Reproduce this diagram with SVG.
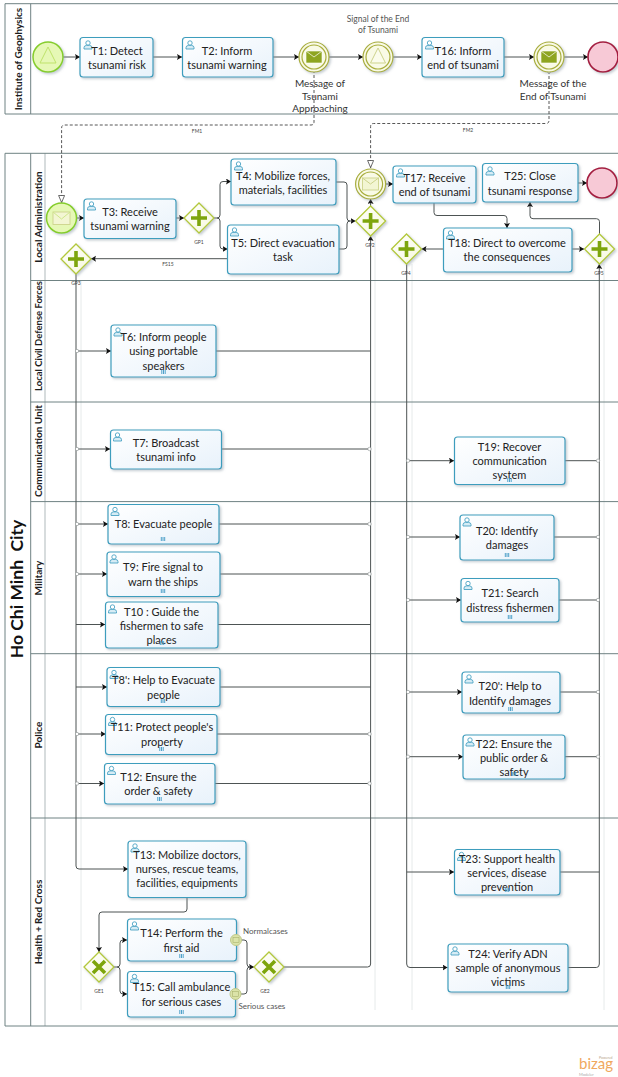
<svg xmlns="http://www.w3.org/2000/svg" width="618" height="1077" viewBox="0 0 618 1077">
<style>
text{font-family:"Lato","Open Sans","Liberation Sans",sans-serif;fill:#222}
.t{font-size:11px;text-anchor:middle}
.lane{font-size:10px;font-weight:700;text-anchor:middle;fill:#1c1c1c}
.s{font-size:5px;text-anchor:middle;fill:#444}
.e{font-size:10px;text-anchor:middle;fill:#333}
.n{font-size:8px;fill:#555}
.box{fill:url(#tg);stroke:#3e9dbd;stroke-width:1.2;filter:url(#sh)}
.pool{fill:none;stroke:#6f8283;stroke-width:1}
.pale{fill:none;stroke:#e6eaea;stroke-width:1}
.c{fill:none;stroke:#4d5353;stroke-width:1}
.a{marker-end:url(#ar)}
.mf{fill:none;stroke:#444;stroke-width:.9;stroke-dasharray:3 2}
.j{fill:#fff;stroke:#8a9090;stroke-width:.6}
.gw{fill:url(#gg);stroke:#b3c83a;stroke-width:1.3;filter:url(#sh)}
.gs{fill:none;stroke:#7da50c;stroke-width:3.6}
.st{fill:#e6f8b6;stroke:#86cd2c;stroke-width:1.5;filter:url(#sh)}
.sti{fill:none;stroke:#bfe36a;stroke-width:1}
.im{fill:#f9fae6;stroke:#a8ad3c;stroke-width:1.2}
.env{fill:#8ea520;stroke:#fff;stroke-width:.6}
.envl{fill:#f3f6d3;stroke:#cdd38c;stroke-width:.9}
.en{fill:#f7c9d6;stroke:#a41d40;stroke-width:1.6;filter:url(#sh)}
.be{fill:#dbe3a8;stroke:#c0c98a;stroke-width:1}
</style>
<defs>
<linearGradient id="tg" x1="0" y1="0" x2="1" y2="1"><stop offset="0" stop-color="#fff"/><stop offset="1" stop-color="#e8f2fb"/></linearGradient>
<linearGradient id="gg" x1="0" y1="0" x2="1" y2="1"><stop offset="0" stop-color="#fff"/><stop offset="1" stop-color="#f6f8dc"/></linearGradient>
<filter id="sh" x="-10%" y="-10%" width="125%" height="125%"><feDropShadow dx="1.5" dy="1.5" stdDeviation="1.2" flood-color="#8a9aa5" flood-opacity=".5"/></filter>
<marker id="ar" markerUnits="userSpaceOnUse" markerWidth="7" markerHeight="7" refX="5" refY="3" orient="auto"><path d="M0 0L5 3L0 6L1 3Z" fill="#111"/></marker>
<marker id="mo" markerUnits="userSpaceOnUse" markerWidth="10" markerHeight="10" refX="8" refY="3.5" orient="auto"><path d="M0.5 0.5L7.5 3.5L0.5 6.5Z" fill="#fff" stroke="#444" stroke-width=".8"/></marker>
<g id="u"><circle cx="5" cy="3" r="2.2" fill="#fff" stroke="#4aa3c4" stroke-width=".9"/><path d="M1 9V7.6Q1 5.6 3.4 5.4H6.6Q9 5.6 9 7.6V9Z" fill="#d6ecf5" stroke="#4aa3c4" stroke-width=".9"/></g>
<path id="m" d="M-1.7 0V4M0 0V4M1.7 0V4" stroke="#3d97c4" stroke-width=".9" fill="none"/>
<path id="pl" d="M-8 0H8M0 -8V8" class="gs"/>
<path id="xx" d="M-6 -6L6 6M6 -6L-6 6" class="gs"/>
<path id="dm" d="M-15 0L0 -15L15 0L0 15Z"/>
</defs>
<rect width="618" height="1077" fill="#fff"/>

<g id="pools">
<path class="pale" d="M81 280V1010M375 236V1010M412 264V1010M604 264V1010"/>
<path class="pool" d="M618 3.7H5V114H618M30.7 3.7V114"/>
<path class="pool" d="M618 153.3H5V1026H618M30.7 153.3V1026"/>
<path class="pool" d="M45 153.3V1026" stroke-opacity=".55"/>
<path class="pool" d="M30.700 280.500H618M30.700 402H618M30.700 501.600H618M30.700 653.700H618M30.700 818H618"/>
<text class="lane" transform="translate(22,59) rotate(-90)">Institute of Geophysics</text>
<text class="lane" transform="translate(42,217) rotate(-90)">Local Administration</text>
<text class="lane" transform="translate(42,336) rotate(-90)" style="font-size:9.500px">Local Civil Defense Forces</text>
<text class="lane" transform="translate(42,451) rotate(-90)">Communication Unit</text>
<text class="lane" transform="translate(42,578) rotate(-90)">Military</text>
<text class="lane" transform="translate(42,735) rotate(-90)">Police</text>
<text class="lane" transform="translate(42,922) rotate(-90)">Health + Red Cross</text>
<text class="lane" transform="translate(23,589) rotate(-90)" style="font-size:17.500px;fill:#111;white-space:pre">Ho Chi Minh  City</text>
</g>

<g id="connectors">
<path class="c a" d="M63 57H80"/><path class="c a" d="M153 57H182"/><path class="c a" d="M273 57H299"/><path class="c a" d="M329 57H363"/><path class="c a" d="M393 57H422"/><path class="c a" d="M504 57H534"/><path class="c a" d="M564 57H588"/>
<path class="mf" marker-end="url(#mo)" d="M314 70V122Q314 125 311 125H64.600Q61.600 125 61.600 128V203"/>
<path class="mf" marker-end="url(#mo)" d="M549 71V120.500Q549 123.500 546 123.500H373.600Q370.600 123.500 370.600 126.500V168"/>
<circle class="j" cx="314" cy="70" r="2"/><circle class="j" cx="549" cy="71" r="2"/>
<path class="c a" d="M76.500 218H84"/><path class="c a" d="M176 218H184"/>
<path class="c a" d="M214 218H217Q220 218 220 215V184.500Q220 181.500 223 181.500H231"/>
<path class="c a" d="M217 218Q220 218 220 221V246Q220 249 223 249H227.500"/>
<path class="c a" d="M227.500 258.700H91"/>
<path class="c a" d="M336 182H344Q347 182 347 185V218Q347 221 350 221H355.500"/>
<path class="c" d="M339 249H344Q347 249 347 246V224Q347 221 350 221"/>
<path class="c a" d="M370.600 206V199"/><path class="c a" d="M385.600 184H393"/>
<path class="c a" d="M434 203V212.500Q434 215.500 437 215.500H504Q507 215.500 507 218.500V228"/>
<path class="c a" d="M443 249H421.500"/><path class="c a" d="M572 249H584"/>
<path class="c a" d="M599.500 234V221.700Q599.500 218.700 596.500 218.700H533Q530 218.700 530 215.700V202"/>
<path class="c a" d="M578 183H587"/>
<path class="c a" d="M76 274V866Q76 869 79 869H128"/>
<path class="c a" d="M76 351H111"/><path class="c a" d="M76 449H110"/><path class="c a" d="M76 524H108"/><path class="c a" d="M76 574H107"/><path class="c a" d="M76 624.500H105"/><path class="c a" d="M76 687H107"/><path class="c a" d="M76 734H105.500"/><path class="c a" d="M76 783.500H104"/>
<path class="c" d="M216 351H370.600M222 449H370.600M219 524H370.600M220 574H370.600M218 624.500H370.600M220 687H370.600M217 734H370.600M215 783.500H370.600"/>
<path class="c a" d="M284 967H367.600Q370.600 967 370.600 964V236"/>
<path class="c a" d="M187 898V909Q187 912 184 912H102Q99 912 99 915V952"/>
<path class="c a" d="M114 967H117Q120 967 120 964V943Q120 940 123 940H127"/>
<path class="c a" d="M117 967Q120 967 120 970V991Q120 994 123 994H127"/>
<path class="c a" d="M241.500 940H244Q247 940 247 943V964Q247 967 250 967H254"/>
<path class="c" d="M241 994H244Q247 994 247 991V970Q247 967 250 967"/>
<path class="c a" d="M406.700 264V964Q406.700 967.500 410 967.500H447.500"/>
<path class="c a" d="M406.700 460.700H454"/><path class="c a" d="M406.700 537H460"/><path class="c a" d="M406.700 600H461"/><path class="c a" d="M406.700 692H462"/><path class="c a" d="M406.700 756.700H463"/><path class="c a" d="M406.700 872H454"/>
<path class="c" d="M565 460.700H599.300M554 537H599.300M559 600H599.300M560 692H599.300M565 756.700H599.300M560 872H599.300"/>
<path class="c a" d="M568 967.500H596.300Q599.300 967.500 599.300 964V264"/>
<g id="junctions"><circle class="j" cx="77" cy="351" r="1.7"/><circle class="j" cx="77" cy="449" r="1.7"/><circle class="j" cx="77" cy="524" r="1.7"/><circle class="j" cx="77" cy="574" r="1.7"/><circle class="j" cx="77" cy="734" r="1.7"/><circle class="j" cx="77" cy="783.500" r="1.7"/><circle class="j" cx="369.500" cy="449" r="1.7"/><circle class="j" cx="369.500" cy="524" r="1.7"/><circle class="j" cx="369.500" cy="574" r="1.7"/><circle class="j" cx="369.500" cy="734" r="1.7"/><circle class="j" cx="369.500" cy="783.500" r="1.7"/><circle class="j" cx="408" cy="460.700" r="1.7"/><circle class="j" cx="408" cy="537" r="1.7"/><circle class="j" cx="408" cy="600" r="1.7"/><circle class="j" cx="408" cy="692" r="1.7"/><circle class="j" cx="408" cy="756.700" r="1.7"/><circle class="j" cx="598" cy="460.700" r="1.7"/><circle class="j" cx="598" cy="537" r="1.7"/><circle class="j" cx="598" cy="600" r="1.7"/><circle class="j" cx="598" cy="692" r="1.7"/><circle class="j" cx="598" cy="756.700" r="1.7"/></g>
</g>

<g id="StartGeo"><circle class="st" cx="48" cy="57" r="15"/><path class="sti" d="M48 47L56 63H40Z"/></g>
<g id="T1"><rect class="box" x="80" y="37.500" width="73" height="39.500" rx="3"/><use href="#u" x="83" y="40"/><text class="t" x="117" y="55">T1: Detect</text><text class="t" x="117" y="69">tsunami risk</text></g>
<g id="T2"><rect class="box" x="182.500" y="37.500" width="90.500" height="39.500" rx="3"/><use href="#u" x="185" y="40"/><text class="t" x="227" y="55">T2: Inform</text><text class="t" x="227" y="69">tsunami warning</text></g>
<g id="MsgApproach"><circle class="im" cx="314" cy="57" r="15" filter="url(#sh)"/><circle class="im" cx="314" cy="57" r="12"/><rect class="env" x="306" y="51" width="16" height="12"/><path d="M306 51L314 57L322 51" fill="none" stroke="#fff" stroke-width=".7"/><text class="e" x="320" y="87">Message of</text><text class="e" x="320" y="99.500">Tsunami</text><text class="e" x="320" y="112">Approaching</text></g>
<g id="SignalEnd"><circle class="im" cx="378" cy="57" r="15" filter="url(#sh)"/><circle class="im" cx="378" cy="57" r="12"/><path d="M378 48L385.500 63H370.500Z" fill="#fbfcec" stroke="#cdd38c"/><text class="e" x="378" y="21.500" style="font-size:8.500px;fill:#555">Signal of the End</text><text class="e" x="378" y="32.500" style="font-size:8.500px;fill:#555">of Tsunami</text></g>
<g id="T16"><rect class="box" x="422" y="37.500" width="82" height="39.500" rx="3"/><use href="#u" x="424.500" y="40"/><text class="t" x="463" y="55">T16: Inform</text><text class="t" x="463" y="69">end of tsunami</text></g>
<g id="MsgEnd"><circle class="im" cx="549" cy="57" r="15" filter="url(#sh)"/><circle class="im" cx="549" cy="57" r="12"/><rect class="env" x="541" y="51" width="16" height="12"/><path d="M541 51L549 57L557 51" fill="none" stroke="#fff" stroke-width=".7"/><text class="e" x="553" y="87">Message of the</text><text class="e" x="553" y="99.500">End of Tsunami</text></g>
<g id="EndGeo"><circle class="en" cx="603" cy="57" r="15"/></g>

<g id="StartMsg"><circle class="st" cx="61.500" cy="218" r="15"/><rect class="envl" x="53" y="212" width="17" height="12.500"/><path d="M53 212L61.500 219L70 212" fill="none" stroke="#cfe88c"/></g>
<g id="T3"><rect class="box" x="84" y="199" width="92" height="39.500" rx="3"/><use href="#u" x="86.500" y="201"/><text class="t" x="130" y="216">T3: Receive</text><text class="t" x="130" y="230">tsunami warning</text></g>
<g id="GP1"><use href="#dm" x="199" y="218" class="gw"/><use href="#pl" x="199" y="218"/><text class="s" x="199" y="243.500">GP1</text></g>
<g id="T4"><rect class="box" x="231" y="159" width="105" height="46" rx="3"/><use href="#u" x="233.500" y="161"/><text class="t" x="283" y="179.500">T4: Mobilize forces,</text><text class="t" x="283" y="193.500">materials, facilities</text></g>
<g id="T5"><rect class="box" x="227.500" y="225" width="111.500" height="49" rx="3"/><use href="#u" x="229.500" y="227"/><text class="t" x="283" y="247">T5: Direct evacuation</text><text class="t" x="283" y="261">task</text></g>
<g id="GP3"><use href="#dm" x="76" y="259" class="gw"/><use href="#pl" x="76" y="259"/><text class="s" x="76" y="285">GP3</text></g>
<text class="s" x="168" y="266">FS15</text><text class="s" x="197" y="133">FM1</text><text class="s" x="468" y="132">FM2</text>
<g id="MsgCatch"><circle class="im" cx="370.600" cy="184" r="15" filter="url(#sh)"/><circle class="im" cx="370.600" cy="184" r="12"/><rect class="envl" x="362.500" y="178" width="16" height="12"/><path d="M362.500 178L370.500 184L378.500 178" fill="none" stroke="#cdd38c"/></g>
<g id="GP2"><use href="#dm" x="370.600" y="221" class="gw"/><use href="#pl" x="370.600" y="221"/><text class="s" x="370" y="247">GP2</text></g>
<g id="T17"><rect class="box" x="393" y="166" width="83" height="37" rx="3"/><use href="#u" x="395.500" y="168"/><text class="t" x="434.500" y="182">T17: Receive</text><text class="t" x="434.500" y="196">end of tsunami</text></g>
<g id="T25"><rect class="box" x="482.500" y="163.500" width="95.500" height="38.500" rx="3"/><use href="#u" x="485" y="166"/><text class="t" x="530" y="180">T25: Close</text><text class="t" x="530" y="194.500">tsunami response</text></g>
<g id="EndLocal"><circle class="en" cx="602" cy="183" r="15"/></g>
<g id="T18"><rect class="box" x="443.500" y="228" width="128.500" height="44" rx="3"/><use href="#u" x="445.500" y="230"/><text class="t" x="507" y="247">T18: Direct to overcome</text><text class="t" x="507" y="261">the consequences</text></g>
<g id="GP4"><use href="#dm" x="406.500" y="249" class="gw"/><use href="#pl" x="406.500" y="249"/><text class="s" x="406" y="275">GP4</text></g>
<g id="GP5"><use href="#dm" x="599.500" y="249" class="gw"/><use href="#pl" x="599.500" y="249"/><text class="s" x="599" y="275">GP5</text></g>

<g id="T6"><rect class="box" x="111" y="325" width="105" height="52" rx="3"/><use href="#u" x="113" y="327"/><text class="t" x="163.500" y="341">T6: Inform people</text><text class="t" x="163.500" y="355">using portable</text><text class="t" x="163.500" y="369.500">speakers</text><use href="#m" x="163.500" y="370"/></g>
<g id="T7"><rect class="box" x="110.500" y="430" width="111" height="39" rx="3"/><use href="#u" x="112.500" y="432"/><text class="t" x="166" y="446.500">T7: Broadcast</text><text class="t" x="166" y="460.500">tsunami info</text></g>
<g id="T8"><rect class="box" x="108" y="504.500" width="111" height="39.500" rx="3"/><use href="#u" x="110" y="506.500"/><text class="t" x="163.500" y="528">T8: Evacuate people</text><use href="#m" x="163" y="537"/></g>
<g id="T9"><rect class="box" x="107" y="552" width="113" height="44.500" rx="3"/><use href="#u" x="109" y="554"/><text class="t" x="163" y="571">T9: Fire signal to</text><text class="t" x="163" y="585.500">warn the ships</text><use href="#m" x="163" y="589"/></g>
<g id="T10"><rect class="box" x="105.500" y="602" width="112.500" height="46" rx="3"/><use href="#u" x="107.500" y="604"/><text class="t" x="161.500" y="616">T10 : Guide the</text><text class="t" x="161.500" y="629.500">fishermen to safe</text><text class="t" x="161.500" y="643.500">places</text><use href="#m" x="162" y="641"/></g>
<g id="T8p"><rect class="box" x="107" y="667.500" width="113" height="39" rx="3"/><use href="#u" x="109" y="669.500"/><text class="t" x="163.500" y="684">T8': Help to Evacuate</text><text class="t" x="163.500" y="699">people</text><use href="#m" x="163" y="699"/></g>
<g id="T11"><rect class="box" x="105.500" y="714.500" width="111.500" height="40" rx="3"/><use href="#u" x="107.500" y="716.500"/><text class="t" x="162" y="731">T11: Protect people's</text><text class="t" x="162" y="746">property</text><use href="#m" x="161.500" y="747"/></g>
<g id="T12"><rect class="box" x="104.500" y="763.500" width="110.500" height="40.500" rx="3"/><use href="#u" x="106.500" y="765.500"/><text class="t" x="158.500" y="781">T12: Ensure the</text><text class="t" x="158.500" y="795">order &amp; safety</text><use href="#m" x="159.500" y="797"/></g>
<g id="T13"><rect class="box" x="128" y="841" width="118" height="56.500" rx="3"/><use href="#u" x="130" y="843"/><text class="t" x="187" y="859">T13: Mobilize doctors,</text><text class="t" x="187" y="873">nurses, rescue teams,</text><text class="t" x="187" y="887">facilities, equipments</text></g>
<g id="GE1"><use href="#dm" x="99" y="967" class="gw"/><use href="#xx" x="99" y="967"/><text class="s" x="99" y="992.500">GE1</text></g>
<g id="T14"><rect class="box" x="127.500" y="919" width="109" height="42" rx="3"/><use href="#u" x="129.500" y="921"/><text class="t" x="181.500" y="937">T14: Perform the</text><text class="t" x="181.500" y="951.500">first aid</text><use href="#m" x="181.500" y="954"/><circle class="be" cx="236" cy="940" r="5.500"/><rect x="233" y="937.500" width="6" height="5" fill="none" stroke="#a9b26e" stroke-width=".6"/></g>
<g id="T15"><rect class="box" x="127.500" y="971.500" width="108" height="45.500" rx="3"/><use href="#u" x="129.500" y="973.500"/><text class="t" x="181.500" y="991">T15: Call ambulance</text><text class="t" x="181.500" y="1005.500">for serious cases</text><use href="#m" x="181.500" y="1010"/><circle class="be" cx="235.500" cy="994" r="5.500"/><rect x="232.500" y="991.500" width="6" height="5" fill="none" stroke="#a9b26e" stroke-width=".6"/></g>
<g id="GE2"><use href="#dm" x="269" y="967" class="gw"/><use href="#xx" x="269" y="967"/><text class="s" x="265" y="993">GE2</text></g>
<text class="n" x="243" y="934">Normalcases</text><text class="n" x="238.500" y="1009">Serious cases</text>

<g id="T19"><rect class="box" x="454.500" y="437" width="110.500" height="47.500" rx="3"/><text class="t" x="509.500" y="451">T19: Recover</text><text class="t" x="509.500" y="465">communication</text><text class="t" x="509.500" y="479">system</text><use href="#m" x="509.500" y="478"/></g>
<g id="T20"><rect class="box" x="460" y="515" width="94" height="45" rx="3"/><use href="#u" x="462" y="517"/><text class="t" x="507" y="535">T20: Identify</text><text class="t" x="507" y="549">damages</text><use href="#m" x="507" y="553"/></g>
<g id="T21"><rect class="box" x="461" y="578.500" width="98" height="43.500" rx="3"/><use href="#u" x="463" y="580.500"/><text class="t" x="510" y="597">T21: Search</text><text class="t" x="510" y="612">distress fishermen</text><use href="#m" x="510" y="615"/></g>
<g id="T20p"><rect class="box" x="462" y="672" width="98" height="41" rx="3"/><use href="#u" x="464" y="674"/><text class="t" x="510" y="690">T20': Help to</text><text class="t" x="510" y="704.500">Identify damages</text><use href="#m" x="510.500" y="707"/></g>
<g id="T22"><rect class="box" x="463" y="735" width="102" height="44" rx="3"/><use href="#u" x="465" y="737"/><text class="t" x="514" y="748">T22: Ensure the</text><text class="t" x="514" y="761.500">public order &amp;</text><text class="t" x="514" y="775.500">safety</text><use href="#m" x="514" y="772"/></g>
<g id="T23"><rect class="box" x="454.500" y="849.500" width="105.500" height="45.500" rx="3"/><use href="#u" x="456.500" y="851.500"/><text class="t" x="507" y="862.500">T23: Support health</text><text class="t" x="507" y="877">services, disease</text><text class="t" x="507" y="891">prevention</text><use href="#m" x="507" y="888"/></g>
<g id="T24"><rect class="box" x="448" y="944" width="120" height="48" rx="3"/><use href="#u" x="450" y="946"/><text class="t" x="508" y="958">T24: Verify ADN</text><text class="t" x="508" y="972">sample of anonymous</text><text class="t" x="508" y="986">victims</text><use href="#m" x="508" y="985"/></g>

<g id="watermark"><text x="599" y="1059" style="font-size:3.500px;fill:#b8a58a">Powered</text><text x="579" y="1069" style="font-size:15px;fill:#f0a860">bizag</text><text x="579" y="1076" style="font-size:4px;fill:#a9a9a9">Modeler</text></g>
</svg>
